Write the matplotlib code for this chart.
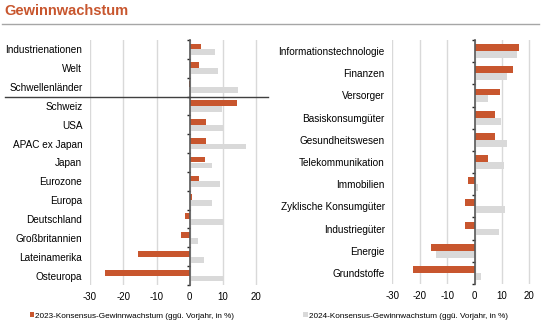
import matplotlib
matplotlib.use("Agg")
import matplotlib.pyplot as plt
from matplotlib.patches import Patch
from matplotlib.lines import Line2D
import numpy as np

plt.rcParams['font.family'] = ['Liberation Sans', 'DejaVu Sans']

# ---- data ----
regions = ["Industrienationen", "Welt", "Schwellenländer", "Schweiz", "USA",
           "APAC ex Japan", "Japan", "Eurozone", "Europa", "Deutschland",
           "Großbritannien", "Lateinamerika", "Osteuropa"]
regions_2023 = [3.3, 2.8, -0.2, 14.1, 5.0, 4.9, 4.5, 2.7, 0.6, -1.4, -2.7, -15.6, -25.4]
regions_2024 = [7.7, 8.6, 14.4, 9.7, 9.9, 16.8, 6.6, 9.2, 6.8, 10.1, 2.6, 4.4, 10.2]

sectors = ["Informationstechnologie", "Finanzen", "Versorger", "Basiskonsumgüter",
           "Gesundheitswesen", "Telekommunikation", "Immobilien",
           "Zyklische Konsumgüter", "Industriegüter", "Energie", "Grundstoffe"]
sectors_2023 = [16.2, 14.1, 9.2, 7.3, 7.3, 4.9, -2.2, -3.6, -3.6, -15.8, -22.5]
sectors_2024 = [15.6, 11.9, 5.0, 9.7, 11.7, 10.8, 1.3, 11.3, 9.1, -13.9, 2.2]

xticks = [-30, -20, -10, 0, 10, 20]
title = "Gewinnwachstum"
legend_2023 = "2023-Konsensus-Gewinnwachstum (ggü. Vorjahr, in %)"
legend_2024 = "2024-Konsensus-Gewinnwachstum (ggü. Vorjahr, in %)"

ORANGE = "#C8562E"
GRAY = "#D9D9D9"
AXIS = "#595959"
TITLE_C = "#C8562E"

W, H = 541, 327
fig = plt.figure(figsize=(W / 100, H / 100), dpi=100)

def fx(px):
    return px / W

def fy(py):
    return 1 - py / H

def draw_panel(ax, cats, v23, v24):
    n = len(cats)
    y = np.arange(n)
    bh = 0.31
    ax.barh(y - bh / 2, v23, height=bh, color=ORANGE, zorder=3)
    ax.barh(y + bh / 2, v24, height=bh, color=GRAY, zorder=2)
    ax.set_xlim(-30, 22)
    ax.set_ylim(n - 0.5, -0.5)
    ax.set_xticks(xticks)
    ax.set_xticklabels([str(t) for t in xticks], fontsize=7)
    ax.tick_params(axis='x', length=0, pad=5)
    for s in ax.spines.values():
        s.set_visible(False)
    ax.grid(axis='x', color="#D9D9D9", linewidth=1.0, zorder=0)
    ax.set_axisbelow(True)
    # zero axis: left spine moved to x=0, ticks at category boundaries
    sp = ax.spines['left']
    sp.set_visible(True)
    sp.set_position(('data', 0))
    sp.set_color(AXIS)
    sp.set_linewidth(1.2)
    sp.set_zorder(5)
    ax.set_yticks(np.arange(-0.5, n, 1.0))
    ax.set_yticklabels([])
    ax.tick_params(axis='y', direction='out', length=2.5, width=1.0, color="#262626")
    # category labels on a secondary axis at the left edge
    sec = ax.secondary_yaxis('left')
    sec.set_yticks(y)
    sec.set_yticklabels(cats, fontsize=7.2)
    sec.tick_params(axis='y', length=0, pad=5.5)
    for s in sec.spines.values():
        s.set_visible(False)

# left panel
ax1 = fig.add_axes([fx(90), fy(285), fx(263 - 90), (285 - 40) / H])
draw_panel(ax1, regions, regions_2023, regions_2024)

# right panel
ax2 = fig.add_axes([fx(392.3), fy(284), fx(534.8 - 392.3), (284 - 40) / H])
draw_panel(ax2, sectors, sectors_2023, sectors_2024)

# separator line between aggregate regions and countries
y_sep = fy(40 + 3 * (285 - 40) / 13)
fig.add_artist(Line2D([fx(5), fx(268)], [y_sep, y_sep], color="#404040", linewidth=1.0))

# title and rule
fig.text(fx(4), fy(11), title, fontsize=10.5, fontweight='bold', color=TITLE_C,
         ha='left', va='center')
fig.add_artist(Line2D([fx(2), fx(539)], [fy(23.5), fy(23.5)], color="#A6A6A6", linewidth=1.0))

# legends
h1 = [Patch(facecolor=ORANGE, edgecolor='none')]
h2 = [Patch(facecolor=GRAY, edgecolor='none')]
fig.legend(h1, [legend_2023], loc='center left', bbox_to_anchor=(fx(29.5), fy(316)),
           frameon=False, fontsize=5.9, handlelength=0.55, handleheight=0.55,
           handletextpad=0.15, borderaxespad=0, borderpad=0)
fig.legend(h2, [legend_2024], loc='center left', bbox_to_anchor=(fx(303), fy(316)),
           frameon=False, fontsize=5.9, handlelength=0.55, handleheight=0.55,
           handletextpad=0.15, borderaxespad=0, borderpad=0)

fig.savefig("out.png", dpi=100)
